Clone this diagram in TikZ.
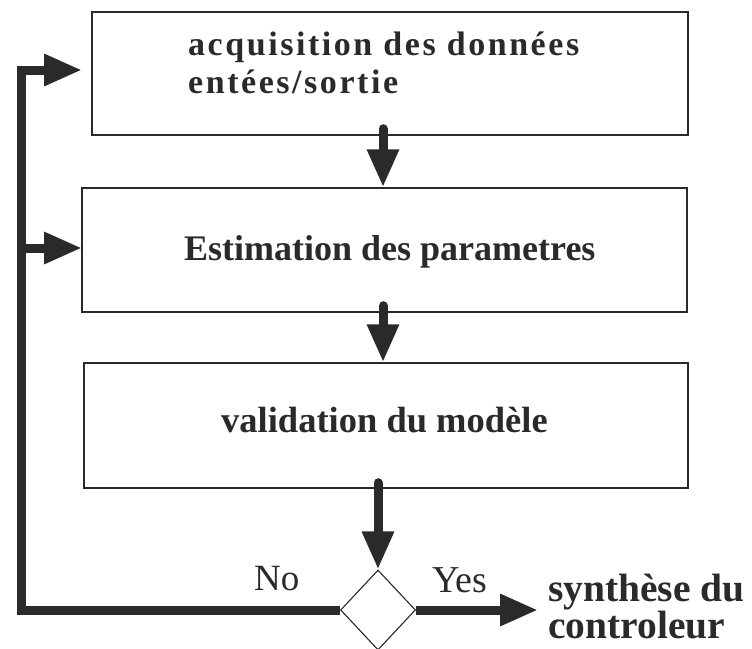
\documentclass[tikz,border=0pt]{standalone}
\usepackage{fontspec}
\setmainfont{Liberation Serif}
\newfontfamily\spacedfont[LetterSpace=7.5]{Liberation Serif}
\usetikzlibrary{arrows.meta,shapes.geometric}
\definecolor{ink}{HTML}{2A2A2A}
\tikzset{
  boxnode/.style={draw=ink, line width=1.4pt, rectangle, inner sep=0pt},
  txt/.style={inner sep=0pt, anchor=base west, text=ink},
  fat/.style={draw=ink, line width=9pt, line join=miter},
  fatarrow/.style={fat, -{Triangle[length=38pt,width=30pt]}},
  dec/.style={draw=ink, line width=1.1pt, shape=diamond, inner sep=0pt, minimum width=75pt, minimum height=80pt, fill=white},
}
\begin{document}
\begin{tikzpicture}[x=1pt,y=-1pt]
\useasboundingbox (0,0) rectangle (752,648);
% boxes
\node[boxnode, minimum width=596pt, minimum height=123pt] (b1) at (390,73.5) {};
\node[boxnode, minimum width=605pt, minimum height=124pt] (b2) at (384.5,250) {};
\node[boxnode, minimum width=604pt, minimum height=125pt] (b3) at (386,425.5) {};
% texts
\node[txt, font=\spacedfont\bfseries\fontsize{34}{38}\selectfont] (t1a) at (188,55) {acquisition des données};
\node[txt, font=\spacedfont\bfseries\fontsize{34}{38}\selectfont] (t1b) at (188,93) {entées/sortie};
\node[txt, font=\bfseries\fontsize{36}{40}\selectfont] (t2) at (184,260) {Estimation des parametres};
\node[txt, font=\bfseries\fontsize{36.5}{40}\selectfont] (t3) at (221,432) {validation du modèle};
% decision
\node[dec] (d) at (378,610) {};
\node[txt, font=\fontsize{37}{40}\selectfont] (no) at (254,590) {No};
\node[txt, font=\fontsize{38}{40}\selectfont] (yes) at (432,592) {Yes};
\node[txt, font=\bfseries\fontsize{39.5}{40}\selectfont] (s1) at (548,601) {synthèse du};
\node[txt, font=\bfseries\fontsize{39.5}{40}\selectfont] (s2) at (548,638) {controleur};
% helper coordinates
\coordinate (tip1) at (82,70);
\coordinate (tip2) at (82,248);
\coordinate (cl) at (21,70);
\coordinate (yestip) at (538,610);
% vertical arrows
\draw[fatarrow, line cap=round] ([xshift=-7pt,yshift=7pt]b1.south) -- ([xshift=-7pt]b1.south |- b2.north);
\draw[fatarrow, line cap=round] ([xshift=-1.5pt,yshift=7pt]b2.south) -- ([xshift=-1.5pt]b2.south |- b3.north);
\draw[fatarrow, line cap=round] ([yshift=6pt]d.north |- b3.south) -- (d.north);
% loop back
\draw[fatarrow] (d.west) -| (cl) -- (tip1);
\draw[fatarrow] (cl |- tip2) -- (tip2);
% yes
\draw[fatarrow] (d.east) -- (yestip);
\end{tikzpicture}
\end{document}
